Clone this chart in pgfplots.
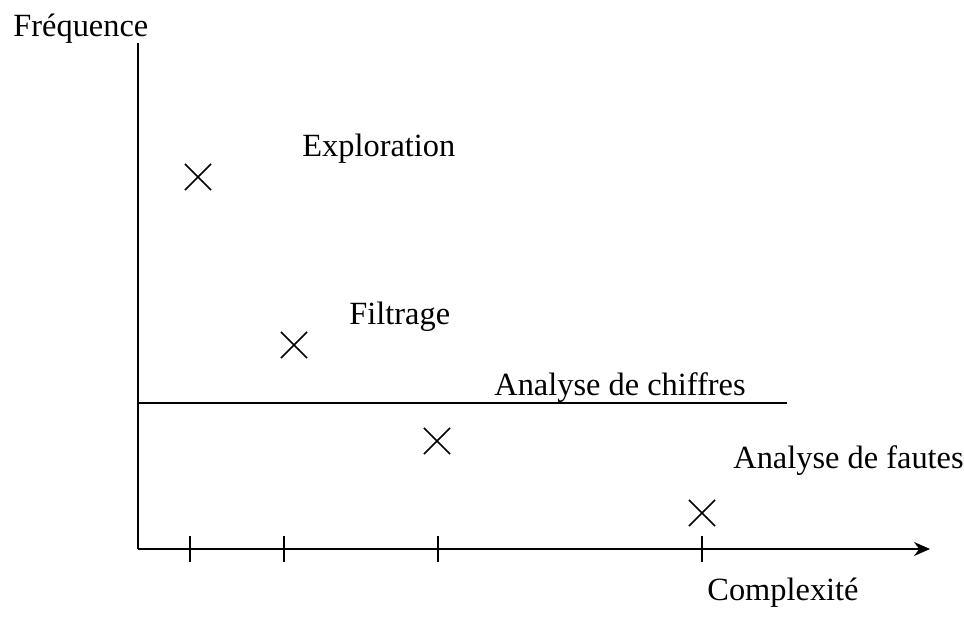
\documentclass[border=0pt]{standalone}
\usepackage{fontspec}
\setmainfont{Liberation Serif}
\usepackage{pgfplots}
\pgfplotsset{compat=1.18}
\usetikzlibrary{arrows.meta}
\begin{document}
\begin{tikzpicture}[font=\fontsize{16.2}{20}\selectfont]
\begin{axis}[
  scale only axis,
  width=396.15pt, height=253pt,
  xmin=137.7, xmax=930, ymin=0, ymax=506,
  axis x line=bottom, axis y line=left,
  x axis line style={line width=1pt, -{Stealth[length=8pt,width=7pt]}},
  y axis line style={line width=1pt, -},
  xtick={190,284,438,702}, xticklabels={},
  ytick=\empty,
  tick align=center,
  major tick length=13pt,
  every tick/.style={black, line width=1pt},
  clip=false,
]
\addplot[only marks, mark=x, mark size=9.2pt, mark options={line width=0.8pt, black}]
  coordinates {(198,372) (294,204) (437,108) (702,36)};
\addplot[black, line width=1pt] coordinates {(137.7,146) (787,146)};
\node[anchor=base west, inner sep=0pt] at (axis cs:13,512) {Fréquence};
\node[anchor=base west, inner sep=0pt] at (axis cs:302,392) {Exploration};
\node[anchor=base west, inner sep=0pt] at (axis cs:349,224) {Filtrage};
\node[anchor=base west, inner sep=0pt] at (axis cs:494,153) {Analyse de chiffres};
\node[anchor=base west, inner sep=0pt] at (axis cs:733,80) {Analyse de fautes};
\node[anchor=base west, inner sep=0pt] at (axis cs:707,-52) {Complexité};
\coordinate (bl) at (axis cs:0,-70);
\coordinate (tr) at (axis cs:964,549);
\end{axis}
\path (bl) rectangle (tr);
\end{tikzpicture}
\end{document}
